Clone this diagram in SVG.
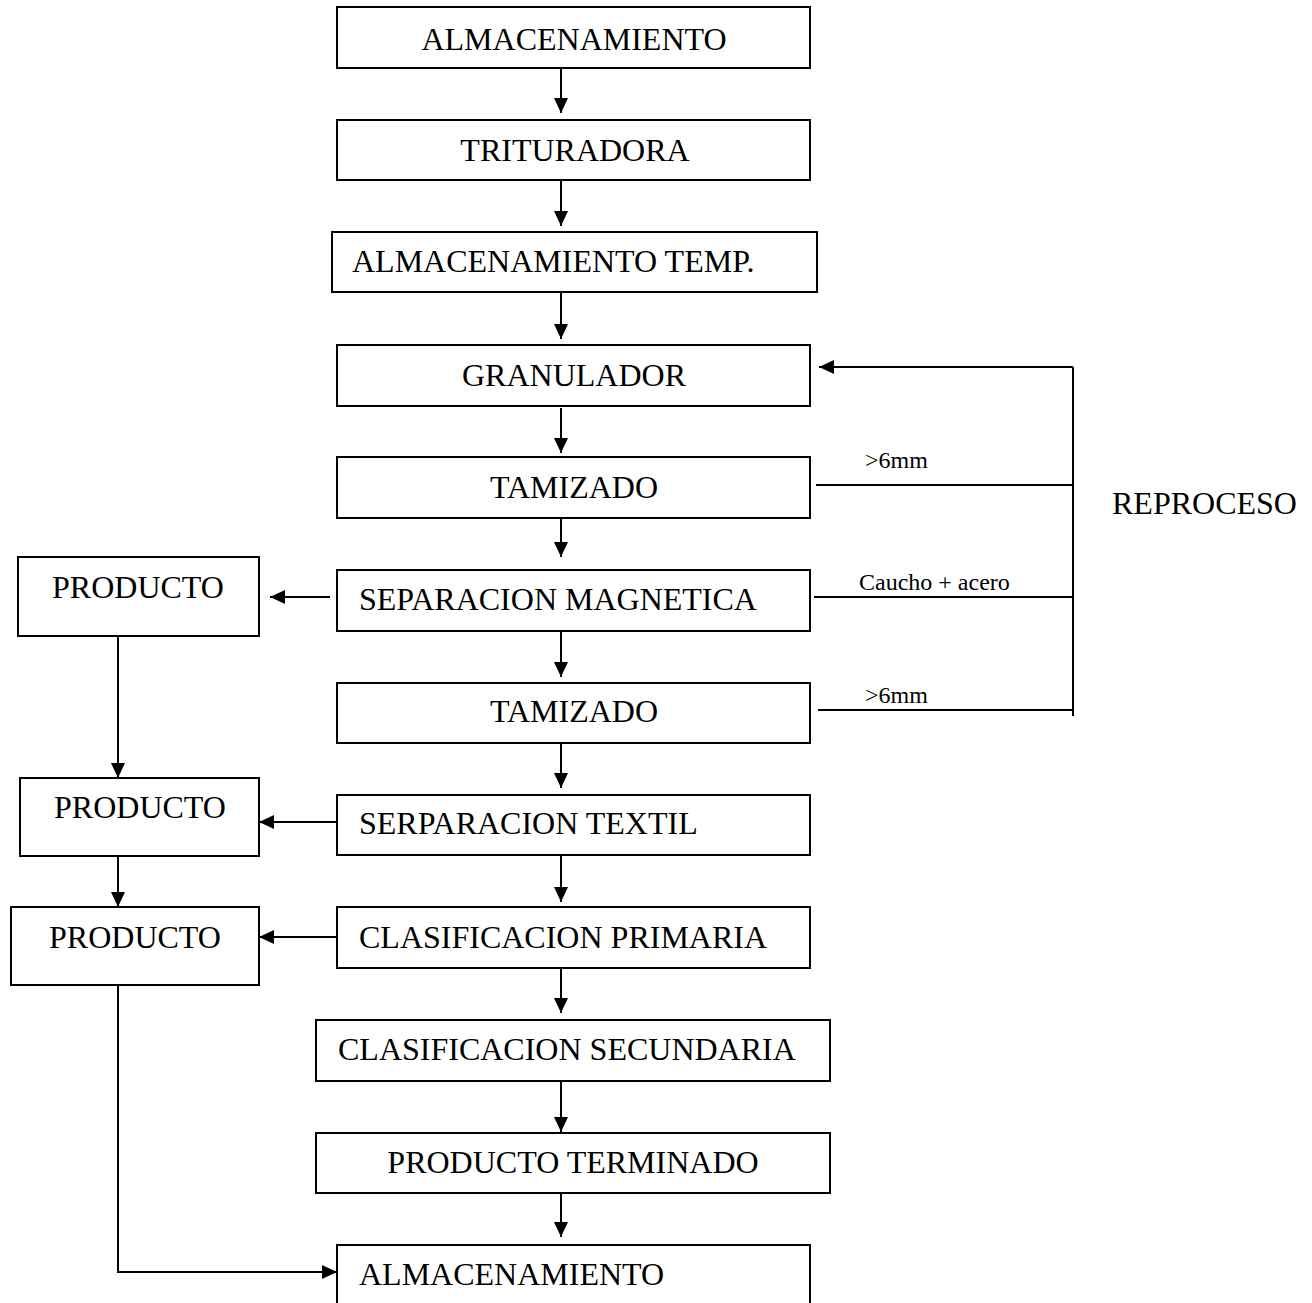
<svg xmlns="http://www.w3.org/2000/svg" width="1312" height="1303" viewBox="0 0 1312 1303">
<style>
.box{fill:#fff;stroke:#000;stroke-width:2}
.t{font-family:"Liberation Serif","Times New Roman",serif;font-size:32px;fill:#000}
.s{font-family:"Liberation Serif","Times New Roman",serif;font-size:24px;fill:#000}
.c{text-anchor:middle}
.ln{fill:none;stroke:#000;stroke-width:2}
</style>
<defs>
<marker id="ah" markerUnits="userSpaceOnUse" markerWidth="16" markerHeight="15" refX="15" refY="7" orient="auto">
<path d="M0,0 L15,7 L0,14 z" fill="#000"/>
</marker>
</defs>
<rect width="1312" height="1303" fill="#fff"/>
<g id="connectors">
<line class="ln" x1="561" y1="68" x2="561" y2="113" marker-end="url(#ah)"/>
<line class="ln" x1="561" y1="180" x2="561" y2="226" marker-end="url(#ah)"/>
<line class="ln" x1="561" y1="292" x2="561" y2="339" marker-end="url(#ah)"/>
<line class="ln" x1="561" y1="408" x2="561" y2="453" marker-end="url(#ah)"/>
<line class="ln" x1="561" y1="518" x2="561" y2="557" marker-end="url(#ah)"/>
<line class="ln" x1="561" y1="631" x2="561" y2="677" marker-end="url(#ah)"/>
<line class="ln" x1="561" y1="743" x2="561" y2="788" marker-end="url(#ah)"/>
<line class="ln" x1="561" y1="855" x2="561" y2="902" marker-end="url(#ah)"/>
<line class="ln" x1="561" y1="968" x2="561" y2="1013" marker-end="url(#ah)"/>
<line class="ln" x1="561" y1="1081" x2="561" y2="1132" marker-end="url(#ah)"/>
<line class="ln" x1="561" y1="1193" x2="561" y2="1237" marker-end="url(#ah)"/>
<line class="ln" x1="330" y1="597" x2="270" y2="597" marker-end="url(#ah)"/>
<line class="ln" x1="337" y1="822" x2="259" y2="822" marker-end="url(#ah)"/>
<line class="ln" x1="337" y1="937" x2="259" y2="937" marker-end="url(#ah)"/>
<line class="ln" x1="118" y1="636" x2="118" y2="778" marker-end="url(#ah)"/>
<line class="ln" x1="118" y1="856" x2="118" y2="907" marker-end="url(#ah)"/>
<polyline class="ln" points="118,985 118,1272 337,1272" marker-end="url(#ah)"/>
<line class="ln" x1="1073" y1="367" x2="1073" y2="716"/>
<line class="ln" x1="1073" y1="367" x2="819" y2="367" marker-end="url(#ah)"/>
<line class="ln" x1="816" y1="485" x2="1073" y2="485"/>
<line class="ln" x1="814" y1="597" x2="1073" y2="597"/>
<line class="ln" x1="818" y1="710" x2="1073" y2="710"/>
<text class="s" x="865" y="468">&gt;6mm</text>
<text class="s" x="859" y="590">Caucho + acero</text>
<text class="s" x="865" y="703">&gt;6mm</text>
<text class="t" x="1112" y="514">REPROCESO</text>
</g>
<g id="n1"><rect class="box" x="337" y="7" width="473" height="61"/><text class="t c" x="574" y="50">ALMACENAMIENTO</text></g>
<g id="n2"><rect class="box" x="337" y="120" width="473" height="60"/><text class="t c" x="575" y="161">TRITURADORA</text></g>
<g id="n3"><rect class="box" x="332" y="232" width="485" height="60"/><text class="t" x="352" y="272">ALMACENAMIENTO TEMP.</text></g>
<g id="n4"><rect class="box" x="337" y="345" width="473" height="61"/><text class="t c" x="574" y="386">GRANULADOR</text></g>
<g id="n5"><rect class="box" x="337" y="457" width="473" height="61"/><text class="t c" x="574" y="498">TAMIZADO</text></g>
<g id="n6"><rect class="box" x="337" y="570" width="473" height="61"/><text class="t" x="359" y="610">SEPARACION MAGNETICA</text></g>
<g id="n7"><rect class="box" x="337" y="683" width="473" height="60"/><text class="t c" x="574" y="722">TAMIZADO</text></g>
<g id="n8"><rect class="box" x="337" y="795" width="473" height="60"/><text class="t" x="359" y="834">SERPARACION TEXTIL</text></g>
<g id="n9"><rect class="box" x="337" y="907" width="473" height="61"/><text class="t" x="359" y="948">CLASIFICACION PRIMARIA</text></g>
<g id="n10"><rect class="box" x="316" y="1020" width="514" height="61"/><text class="t" x="338" y="1060">CLASIFICACION SECUNDARIA</text></g>
<g id="n11"><rect class="box" x="316" y="1133" width="514" height="60"/><text class="t c" x="573" y="1173">PRODUCTO TERMINADO</text></g>
<g id="n12"><rect class="box" x="337" y="1245" width="473" height="70"/><text class="t" x="359" y="1285">ALMACENAMIENTO</text></g>
<g id="p1"><rect class="box" x="18" y="557" width="241" height="79"/><text class="t c" x="138" y="598">PRODUCTO</text></g>
<g id="p2"><rect class="box" x="20" y="778" width="239" height="78"/><text class="t c" x="140" y="818">PRODUCTO</text></g>
<g id="p3"><rect class="box" x="11" y="907" width="248" height="78"/><text class="t c" x="135" y="948">PRODUCTO</text></g>
</svg>
